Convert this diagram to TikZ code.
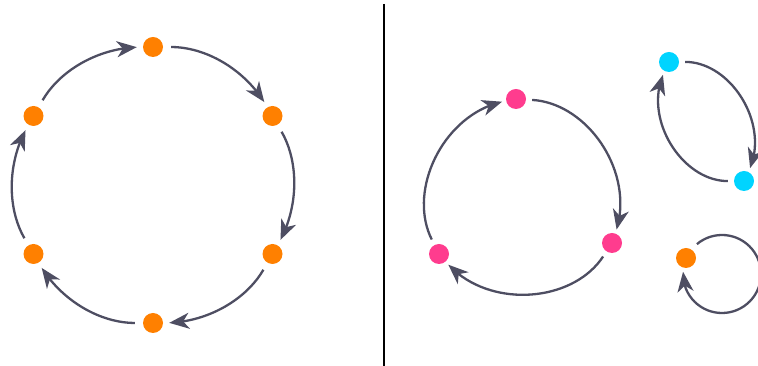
\documentclass[tikz,border=0pt]{standalone}
\usetikzlibrary{arrows.meta,bending}
\definecolor{dotorange}{HTML}{FF8000}
\definecolor{dotpink}{HTML}{FF3C8E}
\definecolor{dotcyan}{HTML}{00D4FF}
\definecolor{arcgray}{HTML}{4E4E62}
\begin{document}
\begin{tikzpicture}[x=1pt, y=1pt,
  v/.style={circle, fill=#1, inner sep=0pt, minimum size=20pt},
  e/.style={line width=2.3pt, draw=arcgray, -{Stealth[length=20pt, width=16pt, inset=6pt]}, shorten <=8pt, shorten >=6pt}]
\useasboundingbox (0,0) rectangle (758,366);
% one cycle of six
\node[v=dotorange] (a1) at (153,319) {};
\node[v=dotorange] (a2) at (272.5,250) {};
\node[v=dotorange] (a3) at (272.5,112) {};
\node[v=dotorange] (a4) at (153,43) {};
\node[v=dotorange] (a5) at (33.5,112) {};
\node[v=dotorange] (a6) at (33.5,250) {};
\draw[e] (a1) to[bend left=30, looseness=0.93] (a2);
\draw[e] (a2) to[bend left=30, looseness=0.93] (a3);
\draw[e] (a3) to[bend left=30, looseness=0.93] (a4);
\draw[e] (a4) to[bend left=30, looseness=0.93] (a5);
\draw[e] (a5) to[bend left=30, looseness=0.93] (a6);
\draw[e] (a6) to[bend left=30, looseness=0.93] (a1);
% divider
\draw[line width=2pt, black] (384,362) -- (384,0);
% cycles of three, two, one
\node[v=dotpink] (p1) at (516,267) {};
\node[v=dotpink] (p2) at (612,123) {};
\node[v=dotpink] (p3) at (439,112) {};
\draw[e, shorten <=6pt, shorten >=4pt] (p1) to[bend left=53, looseness=1.0] (p2);
\draw[e, shorten <=6pt, shorten >=4pt] (p2) to[bend left=53, looseness=1.0] (p3);
\draw[e, shorten <=6pt, shorten >=4pt] (p3) to[bend left=53, looseness=1.0] (p1);
\node[v=dotcyan] (c1) at (669,304) {};
\node[v=dotcyan] (c2) at (744,185) {};
\draw[e, shorten <=6pt, shorten >=4pt] (c1) to[bend left=58, looseness=1.03] (c2);
\draw[e, shorten <=6pt, shorten >=4pt] (c2) to[bend left=58, looseness=1.03] (c1);
\node[v=dotorange] (o1) at (686,108) {};
\coordinate (o1c) at (722,92);
\draw[e, shorten <=0pt, shorten >=0pt] ([shift={(130:39)}]o1c) arc[start angle=130, end angle=-183.3, radius=39];
\end{tikzpicture}
\end{document}
